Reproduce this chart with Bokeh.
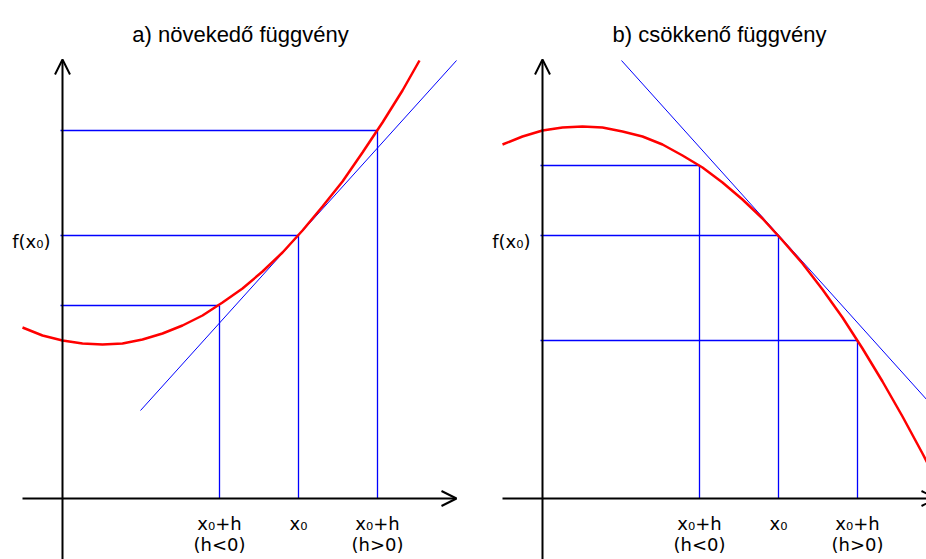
from bokeh.plotting import figure
from bokeh.layouts import row
from bokeh.models import Range1d, Arrow, OpenHead
from bokeh.core.properties import value
from bokeh.embed import file_html
from bokeh.resources import INLINE

# ---- data (units: picture pixels measured from the axes origin) ----
titles = ["a) növekedő függvény", "b) csökkenő függvény"]

# x positions of x0+h (h<0), x0, x0+h (h>0)
x_marks = [157, 236, 315]
tick_main = ["x\u2080+h", "x\u2080", "x\u2080+h"]
tick_sub = ["(h<0)", "", "(h>0)"]
y_label = "f(x\u2080)"

# function values at those positions
fa_marks = [193, 263, 368]   # increasing function
fb_marks = [333, 263, 158]   # decreasing function

# red curve a) (read from the picture)
curve_a_x = [-40, -20, 0, 20, 40, 60, 80, 100, 120, 140, 160, 180, 200,
             220, 240, 260, 280, 300, 320, 340, 357]
curve_a_y = [171, 163, 158, 155, 154, 155, 159, 165, 173, 183, 196, 210, 227,
             246, 268, 292, 317, 346, 376, 408, 438]

# red curve b)
curve_b_x = [-40, -20, 0, 20, 40, 60, 80, 100, 120, 140, 160, 180, 200,
             220, 240, 260, 280, 300, 320, 340, 360, 380, 400]
curve_b_y = [354, 362, 368, 371, 372, 371, 367, 362, 354, 343, 331, 316, 299,
             280, 258, 235, 209, 181, 150, 117, 82, 45, 6]

# tangent lines at x0
tangent_a_x = [78, 394]
tangent_a_y = [88, 438]
tangent_b_x = [79, 394]
tangent_b_y = [438, 88]

# axes extents
axis_x = [-40, 394]
axis_y = [-61, 439]

BLUE = "#0000ff"
RED = "#ff0000"
LABEL_FONT = value("DejaVu Sans")
LABEL_SIZE = value("18px")


def panel(x_range, title, fvals, cx, cy, tx, ty, title_x):
    p = figure(width=463, height=559, x_range=Range1d(*x_range),
               y_range=Range1d(-61, 498), output_backend="svg",
               toolbar_location=None, x_axis_location=None,
               y_axis_location=None, min_border=0)
    p.grid.visible = False
    p.outline_line_color = None
    p.background_fill_color = "white"
    p.border_fill_color = "white"

    # helper lines
    p.segment(x0=x_marks, y0=[0, 0, 0], x1=x_marks, y1=fvals,
              line_color=BLUE, line_width=1.3)
    p.segment(x0=[-2, -2, -2], y0=fvals, x1=x_marks, y1=fvals,
              line_color=BLUE, line_width=1.3)
    # tangent
    p.line(tx, ty, line_color=BLUE, line_width=1)
    # function
    p.line(cx, cy, line_color=RED, line_width=2.5)

    # axes with open arrow heads
    p.add_layout(Arrow(end=OpenHead(size=15, line_width=2, line_color="black"),
                       x_start=0, y_start=axis_y[0], x_end=0, y_end=axis_y[1],
                       line_width=2, line_color="black"))
    p.add_layout(Arrow(end=OpenHead(size=15, line_width=2, line_color="black"),
                       x_start=axis_x[0], y_start=0, x_end=axis_x[1], y_end=0,
                       line_width=2, line_color="black"))

    # labels
    p.text(x=x_marks, y=[-25] * 3, text=tick_main,
           text_font=LABEL_FONT, text_font_size=LABEL_SIZE,
           text_align="center", text_baseline="alphabetic", text_color="black")
    p.text(x=x_marks, y=[-46] * 3, text=tick_sub,
           text_font=LABEL_FONT, text_font_size=LABEL_SIZE,
           text_align="center", text_baseline="alphabetic", text_color="black")
    p.text(x=[-12], y=[fvals[1] - 6], text=[y_label],
           text_font=LABEL_FONT, text_font_size=LABEL_SIZE,
           text_align="right", text_baseline="alphabetic", text_color="black")
    p.text(x=[title_x], y=[464], text=[title],
           text_font=value("Liberation Sans"), text_font_size=value("22px"),
           text_align="center", text_baseline="alphabetic", text_color="black")
    return p


pa = panel((-62, 401), titles[0], fa_marks, curve_a_x, curve_a_y,
           tangent_a_x, tangent_a_y, 178)
pb = panel((-79, 384), titles[1], fb_marks, curve_b_x, curve_b_y,
           tangent_b_x, tangent_b_y, 177)

layout = row(pa, pb)
open("out.html", "w").write(file_html(layout, INLINE))
